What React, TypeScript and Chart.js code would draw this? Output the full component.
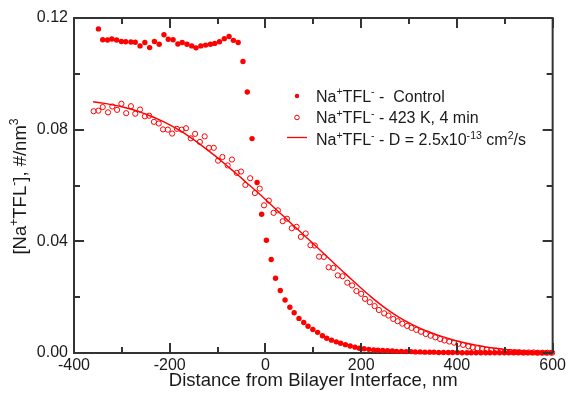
import React, { useEffect, useRef } from "react";
import { Chart, registerables } from "chart.js";

Chart.register(...registerables);

// ---- Data ----
const controlX = [
  -349, -340, -330, -321, -311, -301, -292, -281, -272, -262, -252, -242, -232, -222, -212, -203, -193, -183, -174, -164,
  -154, -145, -135, -125, -115, -106, -96, -86, -76, -67, -57, -47, -38, -28, -17.5, -8, 2, 12, 21, 31,
  41, 51, 60, 70, 80, 89, 99, 109, 119, 128, 138, 148, 157, 167, 177, 187, 196, 206, 216, 226,
  235, 245, 255, 265, 274, 284, 294, 304, 313, 323, 333, 343, 352, 362, 372, 382, 391, 401, 411, 421,
  430, 440, 450, 460, 469, 479, 489, 499, 508, 518, 528, 538, 547, 557, 567, 577, 586, 596,
];
const controlY = [
  0.1161, 0.1122, 0.1121, 0.1125, 0.1121, 0.1116, 0.1115, 0.1114, 0.1113, 0.11, 0.1112, 0.1094, 0.1116, 0.1106, 0.114, 0.1124, 0.1122, 0.1107, 0.1112, 0.1106,
  0.11, 0.1093, 0.11, 0.1103, 0.1106, 0.1109, 0.1115, 0.1126, 0.1134, 0.112, 0.1112, 0.1044, 0.0935, 0.0768, 0.0611, 0.0497, 0.0404, 0.0335, 0.0268, 0.0224,
  0.019, 0.0164, 0.0144, 0.0124, 0.0109, 0.0096, 0.0084, 0.0074, 0.0062, 0.0053, 0.0046, 0.004, 0.0035, 0.003, 0.0025, 0.0021, 0.0017, 0.0015, 0.0013, 0.0011,
  0.001, 0.0009, 0.0008, 0.0007, 0.0006, 0.0006, 0.0005, 0.0005, 0.0004, 0.0004, 0.0003, 0.0003, 0.0003, 0.0002, 0.0002, 0.0002, 0.0002, 0.0002, 0.0001, 0.0001,
  0.0001, 0.0001, 0.0001, 0.0001, 0.0001, 0.0001, 0.0001, 0.0001, 0.0001, 0.0001, 0.0001, 0.0001, 0.0001, 0.0001, 0.0001, 0.0001, 0.0001, 0.0001,
];

const heatedX = [
  -359, -349, -340, -329, -320, -310, -301, -291, -281, -272, -262, -252, -243, -233, -223, -214, -204, -195, -185, -175,
  -166, -156, -147, -137, -127, -118, -108, -99, -90, -79, -70, -60, -51, -42, -32, -22, -12, -3, 7, 17,
  26, 36, 45, 55, 65, 74, 84, 94, 103, 112, 122, 132, 142, 151, 161, 171, 181, 190, 200, 208,
  218, 228, 237, 248, 257, 267, 276, 286, 296, 305, 315, 325, 335, 345, 355, 365, 374, 384, 394, 403,
  413, 424, 433, 443, 453, 462, 472, 482, 491, 501, 511, 521, 530, 540, 550, 560, 569, 579, 589, 599,
];
const heatedY = [
  0.0866, 0.0868, 0.0881, 0.0862, 0.0883, 0.0871, 0.0893, 0.0859, 0.0884, 0.0857, 0.0872, 0.0848, 0.085, 0.0828, 0.0822, 0.0801, 0.08, 0.0786, 0.0803, 0.08,
  0.0805, 0.0769, 0.0785, 0.0756, 0.0776, 0.0735, 0.0735, 0.0689, 0.0702, 0.0672, 0.0693, 0.0645, 0.065, 0.0602, 0.0626, 0.0573, 0.0589, 0.0529, 0.0546, 0.0502,
  0.0511, 0.0472, 0.0481, 0.0447, 0.0452, 0.0416, 0.0428, 0.0386, 0.0385, 0.0345, 0.0344, 0.0307, 0.0305, 0.0278, 0.0275, 0.0252, 0.0242, 0.0222, 0.0212, 0.0194,
  0.0182, 0.0168, 0.0154, 0.0142, 0.0134, 0.0122, 0.0114, 0.0105, 0.0097, 0.009, 0.0083, 0.0076, 0.0068, 0.0062, 0.0056, 0.005, 0.0045, 0.0041, 0.0037, 0.0033,
  0.0029, 0.0024, 0.002, 0.0017, 0.0015, 0.0012, 0.001, 0.0008, 0.0006, 0.0005, 0.0004, 0.0003, 0.0003, 0.0002, 0.0002, 0.0002, 0.0001, 0.0001, 0.0001, 0.0001,
];

const fitX = [
  -360, -340, -320, -300, -280, -260, -240, -220, -200, -180, -160, -140, -120, -100, -80, -60, -40, -20, 0, 20,
  40, 60, 80, 100, 120, 140, 160, 180, 200, 220, 240, 260, 280, 300, 320, 340, 360, 380, 400, 420,
  440, 460, 480, 500, 520, 540, 560, 580, 600,
];
const fitY = [
  0.09, 0.0895, 0.0889, 0.0882, 0.0873, 0.0862, 0.0849, 0.0834, 0.0817, 0.0798, 0.0776, 0.0752, 0.0726, 0.0699, 0.067, 0.0641, 0.0611, 0.0581, 0.055, 0.0518,
  0.0486, 0.0454, 0.0423, 0.0391, 0.0359, 0.0327, 0.0295, 0.0263, 0.0232, 0.0202, 0.0174, 0.0149, 0.0127, 0.0108, 0.0091, 0.0077, 0.0064, 0.0053, 0.0043, 0.0035,
  0.0028, 0.0022, 0.0017, 0.0013, 0.001, 0.0007, 0.0005, 0.0003, 0.0002,
];

const xMajorTicks = [-400, -200, 0, 200, 400, 600];
const xMinorTicks = [-300, -100, 100, 300, 500];
const yMajorTicks = [0, 0.04, 0.08, 0.12];
const yMinorTicks = [0.02, 0.06, 0.1];

type Seg = { t: string; sup?: boolean };
const legendRows: Seg[][] = [
  [{ t: "Na" }, { t: "+", sup: true }, { t: "TFL" }, { t: "-", sup: true }, { t: " -  Control" }],
  [{ t: "Na" }, { t: "+", sup: true }, { t: "TFL" }, { t: "-", sup: true }, { t: " - 423 K, 4 min" }],
  [
    { t: "Na" }, { t: "+", sup: true }, { t: "TFL" }, { t: "-", sup: true },
    { t: " - D = 2.5x10" }, { t: "-13", sup: true }, { t: " cm" }, { t: "2", sup: true }, { t: "/s" },
  ],
];
const yTitle: Seg[] = [
  { t: "[Na" }, { t: "+", sup: true }, { t: "TFL" }, { t: "-", sup: true }, { t: "], #/nm" }, { t: "3", sup: true },
];
const xTitle = "Distance from Bilayer Interface, nm";

const FONT = "'Liberation Sans', Arial, Helvetica, sans-serif";
const RED = "#ff0000";
const INK = "#1a1a1a";

function drawRich(ctx: CanvasRenderingContext2D, segs: Seg[], x: number, y: number, size: number, align: "left" | "center") {
  const supSize = size * 0.66;
  let w = 0;
  for (const s of segs) {
    ctx.font = `${s.sup ? supSize : size}px ${FONT}`;
    w += ctx.measureText(s.t).width;
  }
  let cx = align === "center" ? x - w / 2 : x;
  ctx.textBaseline = "alphabetic";
  ctx.textAlign = "left";
  for (const s of segs) {
    ctx.font = `${s.sup ? supSize : size}px ${FONT}`;
    ctx.fillText(s.t, cx, s.sup ? y - size * 0.42 : y);
    cx += ctx.measureText(s.t).width;
  }
}

const decorPlugin = {
  id: "decor",
  beforeDatasetsDraw(chart: any) {
    const { ctx, chartArea: a } = chart;
    ctx.save();
    ctx.strokeStyle = "#333";
    ctx.lineWidth = 2;
    ctx.strokeRect(a.left, a.top, a.right - a.left, a.bottom - a.top);
    ctx.restore();
  },
  afterDatasetsDraw(chart: any) {
    const { ctx, chartArea: a, scales } = chart;
    ctx.save();
    ctx.strokeStyle = "#333";
    ctx.lineWidth = 2;
    const xt = (v: number, len: number) => {
      const p = Math.round(scales.x.getPixelForValue(v));
      ctx.beginPath();
      ctx.moveTo(p, a.bottom);
      ctx.lineTo(p, a.bottom - len);
      ctx.moveTo(p, a.top);
      ctx.lineTo(p, a.top + len);
      ctx.stroke();
    };
    const yt = (v: number, len: number) => {
      const p = Math.round(scales.y.getPixelForValue(v));
      ctx.beginPath();
      ctx.moveTo(a.left, p);
      ctx.lineTo(a.left + len, p);
      ctx.moveTo(a.right, p);
      ctx.lineTo(a.right - len, p);
      ctx.stroke();
    };
    xMajorTicks.forEach((v) => xt(v, 10));
    xMinorTicks.forEach((v) => xt(v, 6));
    yMajorTicks.forEach((v) => yt(v, 10));
    yMinorTicks.forEach((v) => yt(v, 6));
    ctx.restore();
  },
  afterDraw(chart: any) {
    const { ctx, chartArea: a } = chart;
    ctx.save();
    ctx.fillStyle = INK;
    // x title
    ctx.font = `18.5px ${FONT}`;
    ctx.textAlign = "center";
    ctx.textBaseline = "alphabetic";
    ctx.fillText(xTitle, (a.left + a.right) / 2, 386);
    // y title
    ctx.save();
    ctx.translate(26, (a.top + a.bottom) / 2 + 1);
    ctx.rotate(-Math.PI / 2);
    drawRich(ctx, yTitle, 0, 0, 18.5, "center");
    ctx.restore();
    // legend
    const mx = 297;
    ctx.fillStyle = RED;
    ctx.beginPath();
    ctx.arc(mx, 96, 2.2, 0, Math.PI * 2);
    ctx.fill();
    ctx.strokeStyle = RED;
    ctx.lineWidth = 1;
    ctx.beginPath();
    ctx.arc(mx, 117.5, 2.3, 0, Math.PI * 2);
    ctx.stroke();
    ctx.lineWidth = 1.3;
    ctx.beginPath();
    ctx.moveTo(287, 137.5);
    ctx.lineTo(307, 137.5);
    ctx.stroke();
    ctx.fillStyle = INK;
    const baselines = [101.7, 123.3, 145.3];
    legendRows.forEach((row, i) => drawRich(ctx, row, 316, baselines[i], 16, "left"));
    ctx.restore();
  },
};

export default function App() {
  const ref = useRef<HTMLCanvasElement | null>(null);
  useEffect(() => {
    if (!ref.current) return;
    const chart = new Chart(ref.current, {
      type: "scatter",
      data: {
        datasets: [
          {
            label: "fit",
            data: fitX.map((x, i) => ({ x, y: fitY[i] })),
            showLine: true,
            borderColor: RED,
            borderWidth: 1.4,
            pointRadius: 0,
            cubicInterpolationMode: "monotone",
            clip: false as any,
          },
          {
            label: "control",
            data: controlX.map((x, i) => ({ x, y: controlY[i] })),
            pointRadius: 2.7,
            backgroundColor: RED,
            borderColor: RED,
            borderWidth: 0,
            clip: false as any,
          },
          {
            label: "heated",
            data: heatedX.map((x, i) => ({ x, y: heatedY[i] })),
            pointRadius: 2.6,
            backgroundColor: "rgba(255,255,255,0)",
            borderColor: RED,
            borderWidth: 1,
            clip: false as any,
          },
        ],
      },
      options: {
        animation: false,
        responsive: false,
        devicePixelRatio: 1,
        layout: { padding: { top: 18, right: 15, left: 0, bottom: 0 } },
        plugins: { legend: { display: false }, tooltip: { enabled: false } },
        scales: {
          x: {
            type: "linear",
            min: -400,
            max: 600,
            grid: { display: false, drawTicks: false },
            border: { display: false },
            afterBuildTicks: (s: any) => {
              s.ticks = xMajorTicks.map((v) => ({ value: v }));
            },
            afterFit: (s: any) => {
              s.height = 40;
            },
            ticks: {
              color: INK,
              padding: 3,
              maxRotation: 0,
              font: { family: FONT, size: 16 },
              callback: (v: any) => String(v),
            },
          },
          y: {
            type: "linear",
            min: 0,
            max: 0.12,
            grid: { display: false, drawTicks: false },
            border: { display: false },
            afterBuildTicks: (s: any) => {
              s.ticks = yMajorTicks.map((v) => ({ value: v }));
            },
            afterFit: (s: any) => {
              s.width = 74;
            },
            ticks: {
              color: INK,
              padding: 6,
              font: { family: FONT, size: 16 },
              callback: (v: any) => Number(v).toFixed(2),
            },
          },
        },
      },
      plugins: [decorPlugin],
    });
    return () => chart.destroy();
  }, []);
  return (
    <div style={{ position: "fixed", left: 0, top: 0, width: 569, height: 393, background: "#fff" }}>
      <canvas ref={ref} width={569} height={393} style={{ display: "block" }} />
    </div>
  );
}
